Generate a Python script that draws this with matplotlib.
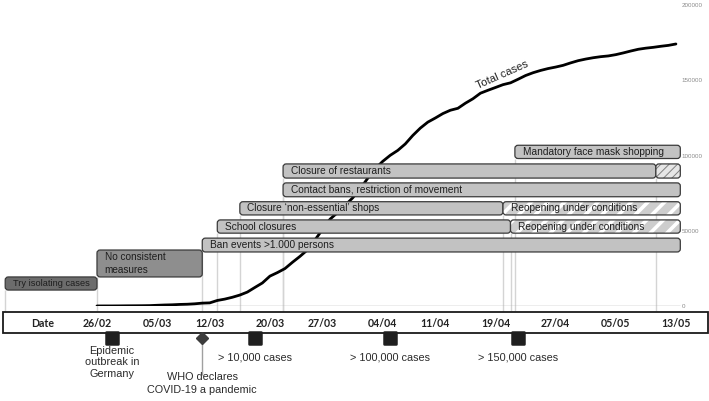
import numpy as np
import pandas as pd
import matplotlib
matplotlib.use('Agg')
import matplotlib.pyplot as plt
import matplotlib.dates as mdates
from matplotlib.patches import FancyBboxPatch, Rectangle
from matplotlib.markers import MarkerStyle
from matplotlib.transforms import blended_transform_factory

plt.rcParams['font.family'] = ['Liberation Sans', 'DejaVu Sans']

# cumulative confirmed cases, Germany, 26/02 - 13/05
dates = pd.date_range('2020-02-26', '2020-05-13')
cases = [27, 46, 48, 79,
         130, 159, 196, 262, 482, 670, 799, 1040, 1176, 1457,
         1908, 2078, 3675, 4585, 5795, 7272, 9257, 12327, 15320, 19848,
         22213, 24873, 29056, 32986, 37323, 43938, 50871, 57695, 62095, 66885,
         71808,
         77872, 84794, 91159, 96092, 100123, 103374, 107663, 113296, 118181, 122171,
         124908, 127854, 130072, 131359, 134753, 137698, 141397, 143342, 145184, 147065,
         148291, 150648, 153129, 154999, 156513, 157770, 158758, 159912, 161539, 163009,
         164077, 164967, 165664, 166152, 167007, 168162, 169430, 170588, 171324, 171879,
         172576, 173171, 174098]

# measures (timeline boxes)
box_labels = ['Try isolating cases', 'No consistent\nmeasures', 'Ban events >1.000 persons',
              'School closures', 'Reopening under conditions',
              'Closure \u2018non-essential\u2019 shops', 'Reopening under conditions',
              'Contact bans, restriction of movement', 'Closure of restaurants', '',
              'Mandatory face mask shopping']
box_start = ['2020-02-13 19:00', '2020-02-26', '2020-03-11',
             '2020-03-13', '2020-04-21',
             '2020-03-16', '2020-04-20',
             '2020-03-21 18:00', '2020-03-21 18:00', '2020-05-10 08:00',
             '2020-04-21 14:00']
box_end = ['2020-02-26', '2020-03-11', '2020-05-13 14:00',
           '2020-04-21', '2020-05-13 14:00',
           '2020-04-20', '2020-05-13 14:00',
           '2020-05-13 14:00', '2020-05-10 08:00', '2020-05-13 14:00',
           '2020-05-13 14:00']
box_kind = ['dark', 'mid', 'plain', 'plain', 'reopen', 'plain', 'reopen',
            'plain', 'plain', 'hatch', 'plain']

# milestones below the date strip
ms_dates = ['2020-02-28', '2020-03-18', '2020-04-05', '2020-04-22']
ms_labels = ['Epidemic\noutbreak in\nGermany', '> 10,000 cases', '> 100,000 cases', '> 150,000 cases']
who_date = '2020-03-11'
who_label = 'WHO declares\nCOVID-19 a pandemic'

tick_dates = ['2020-02-26', '2020-03-05', '2020-03-12', '2020-03-20', '2020-03-27',
              '2020-04-04', '2020-04-11', '2020-04-19', '2020-04-27', '2020-05-05', '2020-05-13']
ytick_values = [0, 50000, 100000, 150000, 200000]

# layout: box bottoms / heights in case units
box_bottom = [10600, 19300, 35900, 48400, 48400, 60500, 60500, 72600, 85000, 85000, 98000]
box_height = [8700, 17900, 9200, 8800, 8800, 8800, 8800, 9200, 9400, 9400, 8800]

fill = {'dark': '#6c6c6c', 'mid': '#8e8e8e', 'plain': '#c2c2c2',
        'reopen': '#cdcdcd', 'hatch': '#e6e6e6'}
fsize = {'dark': 6.7, 'mid': 7.2, 'plain': 7.3, 'reopen': 7.3, 'hatch': 7.3}

fig = plt.figure(figsize=(7.09, 4.01), dpi=100)
ax = fig.add_axes([0, 95 / 401, 1, 301 / 401])
ax2 = fig.add_axes([0, 0, 1, 95 / 401], sharex=ax)

x0 = mdates.date2num(pd.Timestamp('2020-02-26'))
ax.set_xlim(x0 - 12.9, x0 + 81.4)
ax.set_ylim(0, 200000)

x = mdates.date2num(dates)
ax.plot(x, cases, color='black', lw=2, zorder=2, solid_capstyle='round')
ax.hlines(0, x[0], mdates.date2num(pd.Timestamp(box_end[2])), color='#a8a8a8', lw=1, zorder=1)

ax.text(mdates.date2num(pd.Timestamp('2020-04-19 21:00')), 153500, 'Total cases',
        rotation=24, ha='center', va='center', fontsize=8, color='#222222')

# y labels at right
ax.yaxis.tick_right()
ax.set_yticks(ytick_values)
ax.set_yticklabels([str(v) for v in ytick_values])
ax.tick_params(axis='y', length=0, pad=-19.5, labelsize=4.5, labelcolor='#8a8a8a')
ax.tick_params(axis='x', bottom=False, labelbottom=False)
ax.yaxis.set_zorder(5)
for s in ax.spines.values():
    s.set_visible(False)

r = 0.42
asp = 2000 / r
for lab, s, e, kind, b, h in zip(box_labels, box_start, box_end, box_kind, box_bottom, box_height):
    xs = mdates.date2num(pd.Timestamp(s))
    xe = mdates.date2num(pd.Timestamp(e))
    ax.vlines(xs, -3300, b, color='#d4d4d4', lw=1, zorder=0.5, clip_on=False)
    style = f'round,pad=0,rounding_size={r}'
    if kind in ('reopen', 'hatch'):
        hp = FancyBboxPatch((xs, b), xe - xs, h, boxstyle=style, mutation_aspect=asp,
                            facecolor=fill[kind],
                            edgecolor='white' if kind == 'reopen' else '#808080',
                            hatch='//' if kind == 'reopen' else '////', lw=0, zorder=3)
        if hasattr(hp, 'set_hatch_linewidth'):
            hp.set_hatch_linewidth(2.6 if kind == 'reopen' else 0.7)
        ax.add_patch(hp)
        ax.add_patch(FancyBboxPatch((xs, b), xe - xs, h, boxstyle=style, mutation_aspect=asp,
                                    facecolor='none', edgecolor='#3a3a3a', lw=0.9, zorder=3.1))
    else:
        ax.add_patch(FancyBboxPatch((xs, b), xe - xs, h, boxstyle=style, mutation_aspect=asp,
                                    facecolor=fill[kind], edgecolor='#3a3a3a', lw=0.9, zorder=3))
    if lab:
        ax.annotate(lab, (xs, b + h / 2), xytext=(5.5, 0), textcoords='offset points',
                    ha='left', va='center', fontsize=fsize[kind],
                    color='#1e1e1e', zorder=4, linespacing=1.3)

# date strip
ax2.set_ylim(95, 0)
ax2.axis('off')
ax2.patch.set_visible(False)
tr = blended_transform_factory(ax2.transAxes, ax2.transData)
ax2.add_patch(Rectangle((3 / 709, 6), 705 / 709, 21, transform=tr, facecolor='white',
                        edgecolor='#1a1a1a', lw=1.3, zorder=1))
ax2.text(43 / 709, 17.5, 'Date', transform=tr, ha='center', va='center',
         fontsize=7.6, fontweight='bold', family='Lato', color='#222222', zorder=2)
for d in tick_dates:
    t = pd.Timestamp(d)
    ax2.text(mdates.date2num(t), 17.5, t.strftime('%d/%m'), ha='center', va='center',
             fontsize=7.6, fontweight='bold', family='Lato', color='#222222', zorder=2)

sq = MarkerStyle('s', joinstyle='round')
for d, lab in zip(ms_dates, ms_labels):
    xm = mdates.date2num(pd.Timestamp(d))
    ax2.plot([xm], [32], marker=sq, ms=8, mew=1.8, color='#1f1f1f', mec='#1f1f1f', zorder=3)
    if '\n' in lab:
        ax2.text(xm, 39.5, lab, ha='center', va='top', fontsize=7.8, color='#2a2a2a',
                 linespacing=1.2)
    else:
        ax2.text(xm, 52, lab, ha='center', va='center', fontsize=7.8, color='#2a2a2a')

xw = mdates.date2num(pd.Timestamp(who_date))
ax2.vlines(xw, 32, 69, color='#a0a0a0', lw=1, zorder=2)
ax2.plot([xw], [32], marker='D', ms=6.6, color='#3c3c3c', zorder=3)
ax2.text(xw, 66, who_label, ha='center', va='top', fontsize=7.8, color='#2a2a2a',
         linespacing=1.35)

fig.savefig('out.png', dpi=100)
